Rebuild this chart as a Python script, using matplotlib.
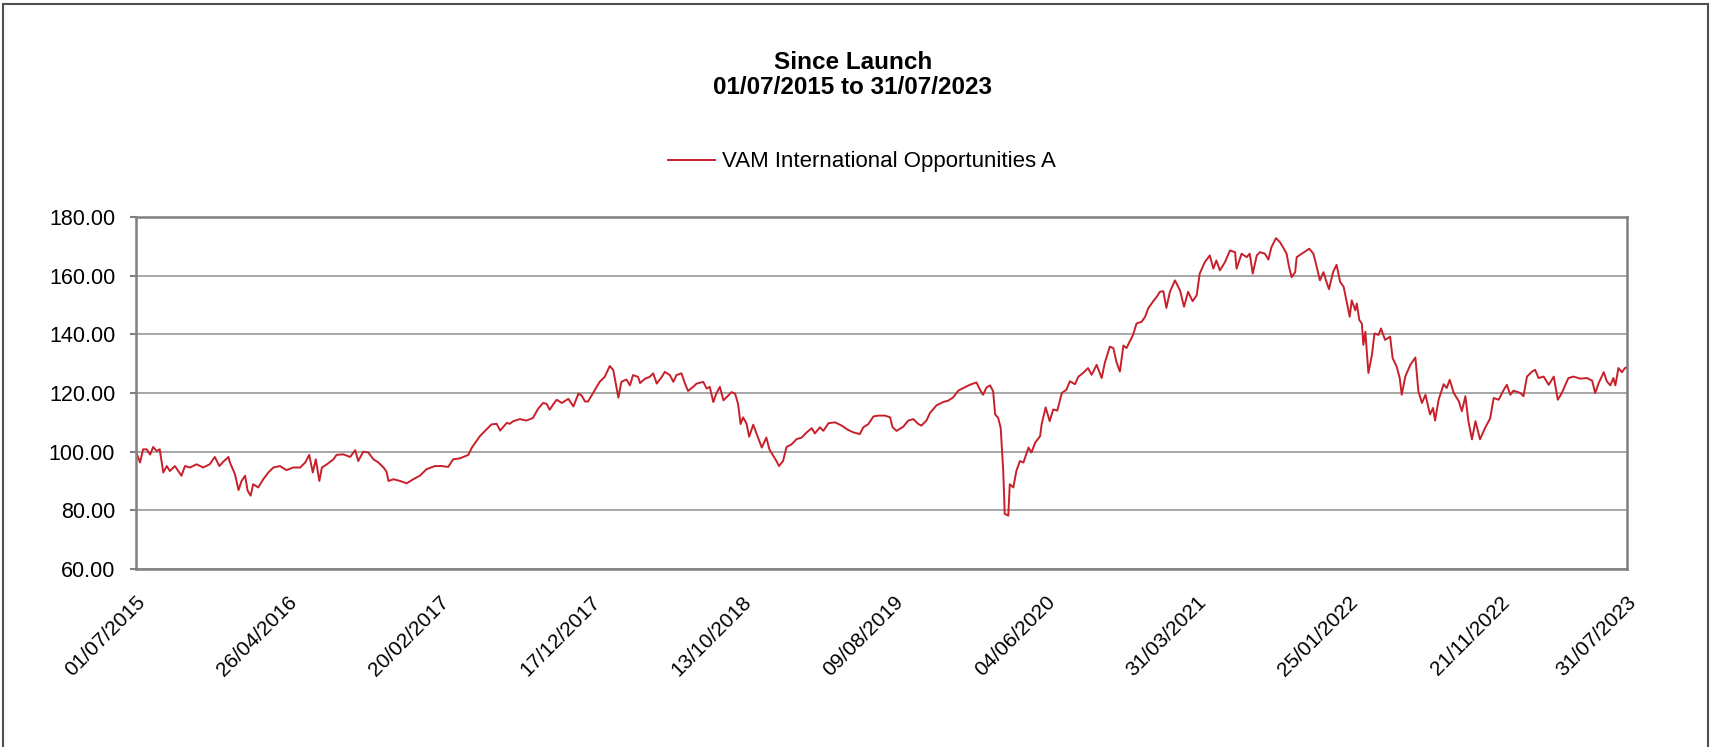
"""
Since Launch chart - VAM International Opportunities A
"""

import datetime as dt
import matplotlib
matplotlib.use('Agg')
import matplotlib.pyplot as plt
from matplotlib.patches import Rectangle

plt.rcParams['font.family'] = ['Liberation Sans', 'DejaVu Sans']

LAUNCH = dt.date(2015, 7, 1)
END = dt.date(2023, 7, 31)

series_name = 'VAM International Opportunities A'
title_lines = ['Since Launch', '01/07/2015 to 31/07/2023']

# 距离成立日的天数 / 净值
days_2015_2017 = [0, 8, 14, 21, 28, 34, 41, 47, 54, 61, 67, 77, 90, 97, 107, 120, 133, 146, 156, 165,
                  173, 183, 186, 196, 203, 209, 216, 221, 227, 232, 242, 252, 262, 272, 285, 298, 311, 325,
                  335, 343, 350, 356, 363, 368, 378, 391, 397, 410, 424, 434, 440, 450, 460, 470, 480, 490,
                  496, 500, 510, 523, 536, 549, 562, 575, 592, 605, 618, 628, 641, 658, 665, 681, 694, 704,
                  714, 721, 734, 740, 747]
nav_2015_2017 = [100.0, 96.3, 100.8, 100.8, 99.0, 101.6, 100.2, 100.8, 92.9, 95.1, 93.4, 95.1, 91.8, 95.1,
                 94.6, 95.7, 94.6, 95.7, 98.2, 95.1, 96.6, 98.2, 96.3, 92.3, 86.9, 90.0, 91.8, 86.7, 85.0,
                 88.9, 87.8, 90.6, 92.9, 94.6, 95.1, 93.7, 94.6, 94.6, 96.3, 98.9, 92.9, 97.4, 90.0, 94.6,
                 95.7, 97.4, 98.9, 99.1, 98.2, 100.5, 96.8, 100.0, 99.7, 97.4, 96.3, 94.6, 93.2, 90.0, 90.6,
                 90.0, 89.2, 90.6, 91.8, 94.0, 95.1, 95.1, 94.8, 97.4, 97.7, 98.9, 101.4, 105.3, 107.6,
                 109.3, 109.5, 107.2, 109.8, 109.5, 110.4]

days_2017_2019 = [760, 773, 786, 796, 806, 813, 819, 826, 833, 843, 856, 866, 876, 882, 889, 895, 905, 918,
                  928, 938, 945, 951, 955, 961, 971, 978, 984, 994, 998, 1008, 1017, 1024, 1031, 1041, 1047,
                  1057, 1064, 1070, 1080, 1087, 1093, 1103, 1110, 1123, 1130, 1136, 1143, 1149, 1156, 1163,
                  1173, 1179, 1186, 1192, 1197, 1202, 1209, 1214, 1222, 1229, 1239, 1248, 1254, 1260, 1268,
                  1273, 1281, 1288, 1298, 1308, 1318, 1328, 1338, 1344, 1354, 1361, 1371, 1384, 1397, 1410,
                  1420, 1433, 1440, 1450, 1460, 1470, 1483, 1493, 1498, 1506, 1519, 1529, 1539, 1549, 1555]
nav_2017_2019 = [111.1, 110.6, 111.5, 114.6, 116.6, 116.3, 114.3, 116.1, 117.7, 116.6, 118.0, 115.4, 119.8,
                 119.2, 117.1, 117.1, 120.0, 123.8, 125.5, 129.2, 127.8, 122.1, 118.4, 123.8, 124.6, 122.6,
                 126.1, 125.5, 123.4, 124.9, 125.5, 126.7, 123.2, 125.5, 127.2, 126.1, 123.8, 126.1, 126.7,
                 123.2, 120.7, 122.1, 123.2, 123.8, 121.5, 122.1, 116.9, 119.8, 122.1, 117.5, 119.2, 120.3,
                 119.8, 116.3, 109.4, 111.7, 109.4, 105.1, 109.2, 106.0, 101.4, 104.8, 100.8, 99.1, 96.8,
                 95.1, 96.8, 101.6, 102.5, 104.3, 104.8, 106.6, 108.0, 106.2, 108.3, 107.1, 109.7, 110.0,
                 108.9, 107.4, 106.6, 106.0, 108.3, 109.4, 112.0, 112.3, 112.3, 111.7, 108.3, 107.1, 108.5,
                 110.6, 111.1, 109.4, 108.9]

days_2019_2021 = [1565, 1572, 1585, 1598, 1608, 1618, 1628, 1638, 1651, 1664, 1671, 1677, 1684, 1691, 1697,
                  1701, 1707, 1712, 1717, 1720, 1727, 1730, 1737, 1743, 1750, 1757, 1767, 1773, 1780, 1790,
                  1793, 1801, 1809, 1816, 1824, 1833, 1842, 1849, 1859, 1866, 1875, 1885, 1892, 1902, 1912,
                  1918, 1928, 1935, 1941, 1948, 1955, 1961, 1974, 1981, 1991, 1998, 2004, 2014, 2021, 2027,
                  2034, 2040, 2047, 2057, 2067, 2075, 2083, 2092, 2100, 2106, 2116, 2126, 2133, 2139, 2146,
                  2156, 2166, 2176, 2179, 2189, 2199, 2205, 2211, 2219, 2225, 2235, 2242, 2248, 2257, 2265,
                  2271, 2278, 2283, 2288, 2295, 2298, 2308, 2318, 2323, 2331, 2337, 2344, 2351, 2357, 2362,
                  2370, 2377]
nav_2019_2021 = [110.6, 113.2, 115.8, 116.9, 117.4, 118.5, 120.8, 121.7, 122.8, 123.6, 121.1, 119.4, 121.9,
                 122.6, 120.6, 112.7, 111.5, 108.1, 93.4, 78.8, 78.2, 88.9, 87.8, 93.4, 96.8, 96.3, 101.4,
                 99.7, 103.0, 105.3, 109.3, 115.1, 110.4, 114.4, 114.0, 120.0, 121.1, 124.0, 123.0, 125.6,
                 126.8, 128.5, 126.2, 129.6, 125.1, 130.2, 135.8, 135.3, 130.7, 127.3, 136.2, 135.3, 139.8,
                 143.7, 144.3, 146.0, 148.8, 151.3, 152.8, 154.5, 154.7, 149.0, 154.5, 158.4, 155.0, 149.4,
                 154.5, 151.3, 153.3, 160.7, 164.6, 166.9, 162.4, 165.2, 161.8, 164.6, 168.6, 168.0, 162.4,
                 167.5, 166.3, 167.5, 160.7, 166.9, 168.0, 167.5, 165.5, 169.7, 172.8, 171.4, 169.7, 167.5,
                 162.9, 159.5, 161.2, 166.3, 167.5, 168.6, 169.2, 167.5, 163.5, 158.4, 161.2, 157.9, 155.4,
                 161.2, 163.7]

days_2022_2023 = [2384, 2391, 2397, 2403, 2407, 2414, 2417, 2422, 2427, 2430, 2434, 2440, 2447, 2452, 2460,
                  2465, 2473, 2483, 2488, 2496, 2502, 2506, 2513, 2523, 2533, 2539, 2546, 2553, 2562, 2568,
                  2572, 2579, 2589, 2595, 2601, 2609, 2619, 2625, 2632, 2638, 2645, 2652, 2661, 2671, 2681,
                  2688, 2698, 2708, 2714, 2721, 2727, 2741, 2747, 2754, 2764, 2770, 2777, 2787, 2797, 2807,
                  2815, 2823, 2830, 2836, 2846, 2859, 2873, 2883, 2889, 2896, 2906, 2912, 2919, 2925, 2929,
                  2935, 2942, 2948, 2952]
nav_2022_2023 = [157.9, 156.2, 151.1, 146.0, 151.6, 148.2, 150.5, 144.9, 143.7, 136.4, 140.9, 126.8, 133.0,
                 140.3, 139.8, 142.0, 138.1, 139.2, 131.9, 129.0, 125.1, 119.4, 125.6, 129.6, 132.1, 120.6,
                 116.6, 119.4, 112.7, 114.9, 110.6, 117.7, 123.0, 121.7, 124.5, 120.0, 117.2, 113.8, 118.9,
                 110.4, 104.2, 110.4, 104.2, 108.1, 111.3, 118.3, 117.7, 121.1, 122.8, 119.4, 120.8, 120.0,
                 118.9, 125.6, 127.3, 127.9, 125.1, 125.6, 122.8, 125.6, 117.7, 120.0, 122.8, 125.1, 125.6,
                 124.9, 125.1, 124.2, 120.0, 123.4, 127.1, 124.0, 122.6, 125.1, 122.6, 128.5, 127.1, 128.5,
                 128.8]

tick_labels = ['01/07/2015', '26/04/2016', '20/02/2017', '17/12/2017', '13/10/2018', '09/08/2019',
               '04/06/2020', '31/03/2021', '25/01/2022', '21/11/2022', '31/07/2023']
y_ticks = [60, 80, 100, 120, 140, 160, 180]


def main():
    days = days_2015_2017 + days_2017_2019 + days_2019_2021 + days_2022_2023
    nav = nav_2015_2017 + nav_2017_2019 + nav_2019_2021 + nav_2022_2023
    dates = [LAUNCH + dt.timedelta(days=d) for d in days]
    tick_dates = [dt.datetime.strptime(s, '%d/%m/%Y').date() for s in tick_labels]

    W, H = 1715, 747
    fig = plt.figure(figsize=(W / 100, H / 100), dpi=100)
    ax = fig.add_axes([136 / W, 1 - 569 / H, (1627 - 136) / W, (569 - 217) / H])

    line, = ax.plot(dates, nav, color='#C8202A', linewidth=1.4)

    ax.set_xlim(LAUNCH, END)
    ax.set_ylim(60, 180)
    ax.set_yticks(y_ticks)
    ax.set_yticklabels([f'{v:.2f}' for v in y_ticks], fontsize=15.5)
    ax.set_xticks(tick_dates)
    ax.set_xticklabels(tick_labels, fontsize=15, rotation=45, ha='right', va='top',
                       rotation_mode='anchor')
    ax.tick_params(axis='x', length=0, pad=17)
    ax.tick_params(axis='y', length=4, width=1.5, color='#808080', pad=11)

    ax.grid(axis='y', color='#A0A0A0', linewidth=1.3)
    ax.set_axisbelow(True)
    for s in ax.spines.values():
        s.set_color('#808080')
        s.set_linewidth(1.8)

    # 标题与图例
    fig.text(853 / W, 1 - 75 / H, '\n'.join(title_lines), ha='center', va='center',
             fontsize=17.5, fontweight='bold', linespacing=1.15)
    fig.legend([line], [series_name], loc='center', bbox_to_anchor=(862 / W, 1 - 162 / H),
               frameon=False, fontsize=16, handlelength=2.1, handletextpad=0.3)

    # 外框
    fig.add_artist(Rectangle((3 / W, -0.05), (1708 - 3) / W, 1.05 - 4 / H, fill=False,
                             edgecolor='#505050', linewidth=1.5, transform=fig.transFigure))

    fig.savefig('out.png', dpi=100)
    plt.close(fig)


if __name__ == '__main__':
    main()
